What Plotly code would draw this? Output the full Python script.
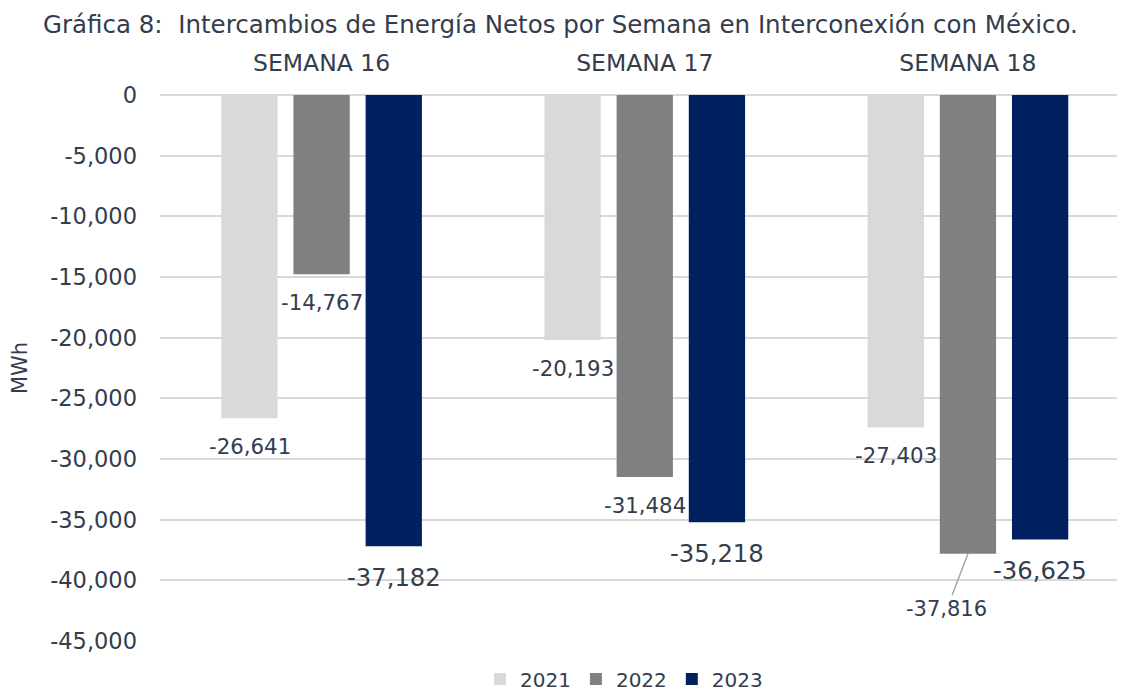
import plotly.graph_objects as go

semanas = ["SEMANA 16", "SEMANA 17", "SEMANA 18"]
anios = ["2021", "2022", "2023"]
valores_2021 = [-26641, -20193, -27403]
valores_2022 = [-14767, -31484, -37816]
valores_2023 = [-37182, -35218, -36625]
y_ticks = [0, -5000, -10000, -15000, -20000, -25000, -30000, -35000, -40000, -45000]

series = {"2021": valores_2021, "2022": valores_2022, "2023": valores_2023}
colores = {"2021": "#d9d9d9", "2022": "#808080", "2023": "#002060"}

TEXT_COLOR = "#333d4d"
FONT = "DejaVu Sans, sans-serif"

# the page body adds an 8px margin, so the figure is 8px smaller each way
W, H = 1117, 686

fig = go.Figure()

for anio in anios:
    fig.add_trace(go.Bar(
        x=semanas,
        y=series[anio],
        name=anio,
        marker_color=colores[anio],
        marker_line_width=0,
        hovertemplate="%{x}<br>%{y:,} MWh<extra>" + anio + "</extra>",
    ))

# data labels, placed below each bar end
offsets = {"2021": -72, "2022": 0, "2023": 72}
annotations = []
for anio in anios:
    for semana, v in zip(semanas, series[anio]):
        big = anio == "2023"
        if anio == "2022" and semana == "SEMANA 18":
            # label moved away with a leader line
            annotations.append(dict(
                x=semana, y=v, xref="x", yref="y",
                text=f"{v:,}",
                showarrow=True, arrowhead=0, arrowwidth=1.5,
                arrowcolor="#a6a6a6", ax=-21, ay=55, standoff=0,
                font=dict(size=21, color=TEXT_COLOR, family=FONT),
            ))
            continue
        annotations.append(dict(
            x=semana, y=v, xref="x", yref="y",
            text=f"{v:,}",
            showarrow=False,
            xshift=offsets[anio],
            yshift=-31 if big else -28,
            yanchor="middle",
            font=dict(size=24.3 if big else 21.3, color=TEXT_COLOR, family=FONT),
        ))

fig.update_layout(
    width=W,
    height=H,
    title=dict(
        text="Gráfica 8:  Intercambios de Energía Netos por Semana en Interconexión con México.",
        x=35 / W, xanchor="left", xref="container",
        y=1 - 16 / H, yanchor="middle", yref="container",
        pad=dict(t=0, b=0, l=0, r=0),
        font=dict(size=24.5, color=TEXT_COLOR, family=FONT),
    ),
    barmode="group",
    bargap=0.33,
    bargroupgap=0.22,
    plot_bgcolor="white",
    paper_bgcolor="white",
    margin=dict(l=152, r=0, t=87, b=53, autoexpand=False),
    font=dict(family=FONT, size=20, color=TEXT_COLOR),
    showlegend=True,
    legend=dict(
        orientation="h",
        x=(616 - 152) / 965, xanchor="center",
        y=-38 / 546, yanchor="middle",
        font=dict(size=20, color=TEXT_COLOR),
        traceorder="normal",
        itemwidth=30,
    ),
    annotations=annotations,
)

fig.update_xaxes(
    side="top",
    showgrid=False,
    showline=False,
    ticks="",
    ticklabelstandoff=18,
    range=[-0.5, 2.486],
    tickfont=dict(size=23.5, color=TEXT_COLOR),
)

fig.update_yaxes(
    range=[-45000, 0],
    tickvals=y_ticks,
    ticktext=[f"{v:,}" for v in y_ticks],
    showgrid=True,
    gridcolor="#d9d9d9",
    gridwidth=2,
    zeroline=True,
    zerolinecolor="#d9d9d9",
    zerolinewidth=2,
    showline=False,
    ticks="",
    ticklabelstandoff=22,
    tickfont=dict(size=22.5, color=TEXT_COLOR),
    title=dict(text="MWh", font=dict(size=21, color=TEXT_COLOR), standoff=16),
)

fig.write_html("out.html")
